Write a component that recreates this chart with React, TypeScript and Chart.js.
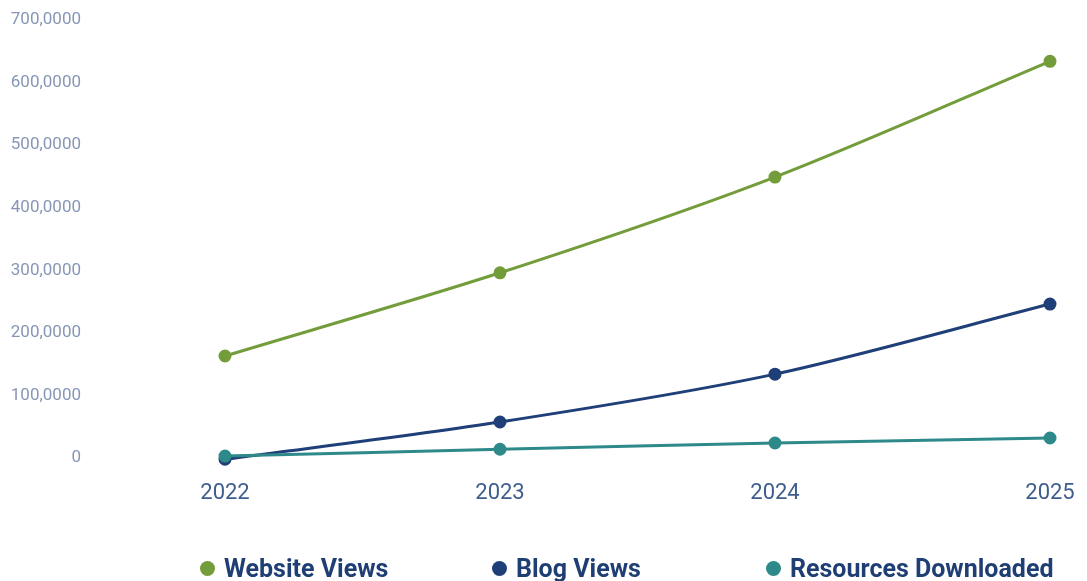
import React, { useEffect, useRef } from "react";
import { Chart, registerables } from "chart.js";

Chart.register(...registerables);

const years = ["2022", "2023", "2024", "2025"];
const websiteViews = [163000, 296000, 449000, 634000];
const blogViews = [-2000, 57500, 134000, 246000];
const resourcesDownloaded = [3000, 14000, 24000, 32000];
const yTickLabels = ["0", "100,0000", "200,0000", "300,0000", "400,0000", "500,0000", "600,0000", "700,0000"];

const seriesNames = ["Website Views", "Blog Views", "Resources Downloaded"];
const seriesColors = ["#739c3a", "#1f3f78", "#2e8a8a"];

export default function App() {
  const ref = useRef<HTMLCanvasElement | null>(null);

  useEffect(() => {
    document.body.style.margin = "0";
    const canvas = ref.current;
    if (!canvas) return;
    const seriesData = [websiteViews, blogViews, resourcesDownloaded];
    const chart = new Chart(canvas, {
      type: "line",
      data: {
        labels: years,
        datasets: seriesData.map((d, i) => ({
          label: seriesNames[i],
          data: d,
          borderColor: seriesColors[i],
          backgroundColor: seriesColors[i],
          borderWidth: 3,
          pointRadius: 5,
          pointHoverRadius: 5,
          tension: 0.3,
          clip: 12,
          order: 3 - i,
        })),
      },
      options: {
        animation: false,
        responsive: false,
        maintainAspectRatio: false,
        layout: { padding: { top: 20, right: 37, bottom: 55, left: 0 } },
        plugins: { legend: { display: false }, tooltip: { enabled: false } },
        scales: {
          x: {
            grid: { display: false, drawTicks: false },
            border: { display: false },
            afterFit: (scale: any) => {
              scale.height = 68;
              scale.paddingLeft = 0;
              scale.paddingRight = 0;
            },
            ticks: {
              padding: 22,
              maxRotation: 0,
              color: "#3f5e8e",
              font: { family: "Roboto", size: 22 },
            },
          },
          y: {
            min: 0,
            max: 700000,
            grid: { display: false, drawTicks: false },
            border: { display: false },
            afterFit: (scale: any) => {
              scale.width = 225;
              scale.paddingTop = 0;
              scale.paddingBottom = 0;
            },
            ticks: {
              stepSize: 100000,
              padding: 144,
              color: "#8697b6",
              font: { family: "Roboto", size: 17 },
              callback: (_v: any, idx: number) => yTickLabels[idx],
            },
          },
        },
      },
    });
    return () => chart.destroy();
  }, []);

  const legendLefts = [200, 492, 766];

  return (
    <div style={{ position: "relative", width: 1087, height: 581, overflow: "hidden", background: "#fff" }}>
      <canvas ref={ref} width={1087} height={581} style={{ position: "absolute", left: 0, top: 0 }} />
      {seriesNames.map((name, i) => (
        <div
          key={name}
          style={{
            position: "absolute",
            left: legendLefts[i],
            top: 556,
            display: "flex",
            alignItems: "center",
            gap: 9,
            fontFamily: "Roboto",
            fontWeight: 700,
            fontSize: 25,
            lineHeight: "25px",
            color: "#1f3f74",
            whiteSpace: "nowrap",
          }}
        >
          <span style={{ width: 15, height: 15, borderRadius: 8, background: seriesColors[i], display: "inline-block" }} />
          <span>{name}</span>
        </div>
      ))}
    </div>
  );
}
